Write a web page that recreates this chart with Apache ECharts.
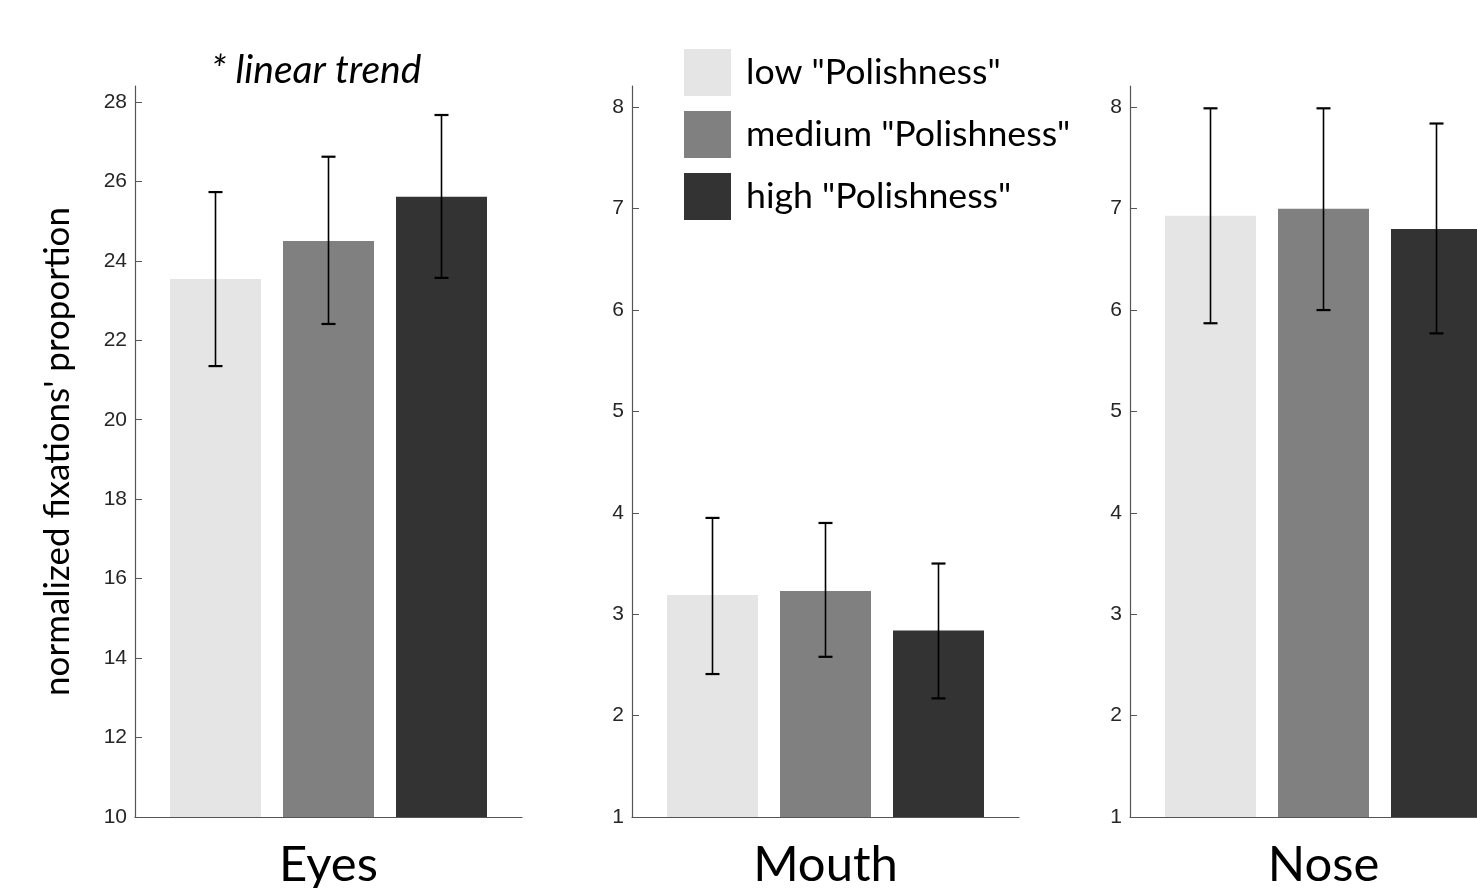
<!DOCTYPE html>
<html>
<head>
<meta charset="utf-8">
<script src="https://cdn.jsdelivr.net/npm/echarts@6/dist/echarts.min.js"></script>
<style>
  html, body { margin: 0; padding: 0; background: #fff; }
  #demo { width: 1477px; height: 888px; }
</style>
</head>
<body>
<div id="demo"></div>
<script>
// 三个区域（每个一个面板）
var regions = ['Eyes', 'Mouth', 'Nose'];
var levels = ['low "Polishness"', 'medium "Polishness"', 'high "Polishness"'];
var levelColors = ['#e5e5e5', '#808080', '#333333'];

// 均值
var meanLow  = [23.54, 3.19, 6.93];
var meanMed  = [24.50, 3.23, 7.00];
var meanHigh = [25.61, 2.84, 6.80];
// 误差棒上下端
var upperLow  = [25.73, 3.95, 7.99];
var lowerLow  = [21.35, 2.41, 5.87];
var upperMed  = [26.62, 3.90, 7.99];
var lowerMed  = [22.41, 2.58, 6.00];
var upperHigh = [27.67, 3.50, 7.84];
var lowerHigh = [23.57, 2.17, 5.77];

// 每个面板的y轴刻度
var ticksEyes  = [10, 12, 14, 16, 18, 20, 22, 24, 26, 28];
var ticksMouth = [1, 2, 3, 4, 5, 6, 7, 8];
var ticksNose  = [1, 2, 3, 4, 5, 6, 7, 8];
var yMin = [10, 1, 1];
var yMax = [28.4, 8.21, 8.21];

var means = [meanLow, meanMed, meanHigh];
var uppers = [upperLow, upperMed, upperHigh];
var lowers = [lowerLow, lowerMed, lowerHigh];
var tickSets = [ticksEyes, ticksMouth, ticksNose];

var barW = 91;
var barGapPx = 22;
var gridLefts = [135, 632, 1130];
var gridW = 387;
var axisColor = '#555555';
var font = 'Lato, "Open Sans", sans-serif';

var grids = [], xAxes = [], yAxes = [], series = [];
for (var p = 0; p < 3; p++) {
    grids.push({ left: gridLefts[p], width: gridW, top: 86, bottom: 71, outerBoundsMode: 'none', containLabel: false });
    xAxes.push({
        type: 'category', gridIndex: p, data: [regions[p]],
        axisLine: { lineStyle: { color: axisColor, width: 1.2 } },
        axisTick: { show: false },
        axisLabel: { fontSize: 49, color: '#000', fontFamily: font, margin: 24 }
    });
    yAxes.push({
        type: 'value', gridIndex: p, min: yMin[p], max: yMax[p],
        name: p === 0 ? "normalized fixations' proportion" : '',
        nameLocation: 'middle', nameRotate: 90, nameGap: 60,
        nameTextStyle: { fontSize: 35, color: '#000', fontFamily: font },
        axisLine: { show: true, lineStyle: { color: axisColor, width: 1.2 } },
        axisTick: { show: true, inside: true, length: 7, customValues: tickSets[p], lineStyle: { color: axisColor } },
        axisLabel: { customValues: tickSets[p], fontSize: 21, color: '#262626', fontFamily: 'Arial, "Liberation Sans", sans-serif', margin: 8 },
        splitLine: { show: false }
    });
    for (var s = 0; s < 3; s++) {
        series.push({
            name: levels[s], type: 'bar', xAxisIndex: p, yAxisIndex: p,
            barWidth: barW, barGap: (barGapPx / barW * 100) + '%',
            itemStyle: { color: levelColors[s] },
            data: [means[s][p]], z: 2
        });
    }
    // 误差棒
    var errData = [];
    for (var s2 = 0; s2 < 3; s2++) {
        errData.push([0, lowers[s2][p], uppers[s2][p], s2]);
    }
    series.push({
        type: 'custom', xAxisIndex: p, yAxisIndex: p, z: 5,
        data: errData,
        renderItem: function (params, api) {
            var lo = api.coord([api.value(0), api.value(1)]);
            var hi = api.coord([api.value(0), api.value(2)]);
            var x = lo[0] + (api.value(3) - 1) * (barW + barGapPx);
            var cap = 7;
            var st = { stroke: '#000', lineWidth: 1.6 };
            return {
                type: 'group',
                children: [
                    { type: 'line', shape: { x1: x, y1: hi[1], x2: x, y2: lo[1] }, style: st },
                    { type: 'line', shape: { x1: x - cap, y1: hi[1], x2: x + cap, y2: hi[1] }, style: { stroke: '#000', lineWidth: 2.2 } },
                    { type: 'line', shape: { x1: x - cap, y1: lo[1], x2: x + cap, y2: lo[1] }, style: { stroke: '#000', lineWidth: 2.2 } }
                ]
            };
        },
        silent: true
    });
}

var myChart = echarts.init(document.getElementById('demo'));
var option = {
    animation: false,
    backgroundColor: '#fff',
    title: {
        text: '* linear trend', left: 211, top: 51, padding: 0,
        textStyle: { fontSize: 39, fontStyle: 'italic', fontWeight: 'normal', color: '#000', fontFamily: font }
    },
    legend: {
        data: levels, orient: 'vertical', left: 684, top: 49, padding: 0,
        itemWidth: 47, itemHeight: 47, itemGap: 15, icon: 'rect',
        textStyle: { fontSize: 35.7, lineHeight: 40, color: '#000', fontFamily: font, padding: [0, 0, 0, 10] }
    },
    grid: grids,
    xAxis: xAxes,
    yAxis: yAxes,
    series: series
};
option && myChart.setOption(option);
</script>
</body>
</html>
